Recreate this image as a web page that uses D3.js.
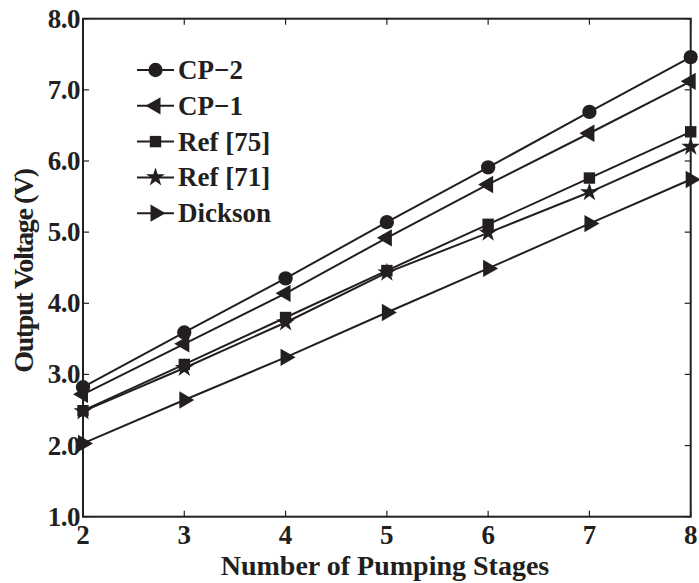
<!DOCTYPE html>
<html>
<head>
<meta charset="utf-8">
<script src="https://cdn.jsdelivr.net/npm/d3@7"></script>
<style>
  html, body { margin: 0; padding: 0; background: #fff; }
  svg { display: block; }
  text { font-family: "Liberation Serif", "Times New Roman", serif; font-weight: bold; fill: #231f20; }
</style>
</head>
<body>
<svg id="chart" width="699" height="583"></svg>
<script>
// Output voltage of each charge pump versus the number of pumping stages
const stages = [2, 3, 4, 5, 6, 7, 8];
const cp2 = [2.82, 3.59, 4.35, 5.14, 5.91, 6.69, 7.46];
const cp1 = [2.72, 3.43, 4.14, 4.92, 5.67, 6.39, 7.12];
const ref75 = [2.49, 3.14, 3.80, 4.46, 5.11, 5.76, 6.41];
const ref71 = [2.48, 3.09, 3.73, 4.43, 4.99, 5.56, 6.20];
const dickson = [2.03, 2.64, 3.24, 3.87, 4.49, 5.12, 5.74];
const seriesNames = ["CP\u22122", "CP\u22121", "Ref [75]", "Ref [71]", "Dickson"];
const xTicks = [2, 3, 4, 5, 6, 7, 8];
const yTicks = [1, 2, 3, 4, 5, 6, 7, 8];

const ink = "#231f20";
const svg = d3.select("#chart");
const margin = { left: 83, right: 8.3, top: 18.7, bottom: 66.3 };
const W = 699, H = 583;

const x = d3.scaleLinear().domain([2, 8]).range([margin.left, W - margin.right]);
const y = d3.scaleLinear().domain([1, 8]).range([H - margin.bottom, margin.top]);

// marker shapes per series
const markers = [
  { type: d3.symbolCircle, size: 160, rotate: 0 },
  { type: d3.symbolTriangle, size: 130, rotate: -90 },
  { type: d3.symbolSquare, size: 130, rotate: 0 },
  { type: d3.symbolStar, size: 110, rotate: 0 },
  { type: d3.symbolTriangle, size: 130, rotate: 90 }
];
const seriesValues = [cp2, cp1, ref75, ref71, dickson];

// frame
const x0 = x.range()[0], x1 = x.range()[1], y0 = y.range()[0], y1 = y.range()[1];
svg.append("rect")
  .attr("x", x0).attr("y", y1)
  .attr("width", x1 - x0).attr("height", y0 - y1)
  .attr("fill", "none").attr("stroke", ink).attr("stroke-width", 2);

// inward ticks on all four sides
const tickLen = 6;
const g = svg.append("g").attr("stroke", ink).attr("stroke-width", 1.2);
xTicks.forEach(t => {
  g.append("line").attr("x1", x(t)).attr("x2", x(t)).attr("y1", y0).attr("y2", y0 - tickLen);
  g.append("line").attr("x1", x(t)).attr("x2", x(t)).attr("y1", y1).attr("y2", y1 + tickLen);
});
yTicks.forEach(t => {
  g.append("line").attr("y1", y(t)).attr("y2", y(t)).attr("x1", x0).attr("x2", x0 + tickLen);
  g.append("line").attr("y1", y(t)).attr("y2", y(t)).attr("x1", x1).attr("x2", x1 - tickLen);
});

// tick labels
svg.append("g").selectAll("text").data(xTicks).join("text")
  .attr("x", d => x(d)).attr("y", y0 + 27.5)
  .attr("text-anchor", "middle").attr("font-size", 27)
  .text(d => d);
svg.append("g").selectAll("text").data(yTicks).join("text")
  .attr("x", x0 - 3).attr("y", d => y(d) + 9)
  .attr("text-anchor", "end").attr("font-size", 27)
  .attr("letter-spacing", -0.5)
  .text(d => d.toFixed(1));

// axis titles
svg.append("text")
  .attr("x", 385).attr("y", 575)
  .attr("text-anchor", "middle").attr("font-size", 28)
  .text("Number of Pumping Stages");
svg.append("text")
  .attr("transform", "translate(33,271) rotate(-90)")
  .attr("text-anchor", "middle").attr("font-size", 28)
  .attr("letter-spacing", -1.4)
  .text("Output Voltage (V)");

// series lines and markers
const line = d3.line().x((d, i) => x(stages[i])).y(d => y(d));
seriesValues.forEach(vals => {
  svg.append("path").datum(vals)
    .attr("d", line).attr("fill", "none")
    .attr("stroke", ink).attr("stroke-width", 2);
});
seriesValues.forEach((vals, k) => {
  const m = markers[k];
  const sym = d3.symbol().type(m.type).size(m.size)();
  svg.append("g").selectAll("path").data(vals).join("path")
    .attr("d", sym)
    .attr("transform", (d, i) => `translate(${x(stages[i])},${y(d)}) rotate(${m.rotate})`)
    .attr("fill", ink);
});

// legend
const legend = svg.append("g");
seriesNames.forEach((name, k) => {
  const cy = 70 + k * 35.8;
  legend.append("line").attr("x1", 137).attr("x2", 174).attr("y1", cy).attr("y2", cy)
    .attr("stroke", ink).attr("stroke-width", 2);
  const m = markers[k];
  legend.append("path")
    .attr("d", d3.symbol().type(m.type).size(m.size)())
    .attr("transform", `translate(155.5,${cy}) rotate(${m.rotate})`)
    .attr("fill", ink);
  legend.append("text").attr("x", 178).attr("y", cy + 9)
    .attr("font-size", 27).text(name);
});
</script>
</body>
</html>
